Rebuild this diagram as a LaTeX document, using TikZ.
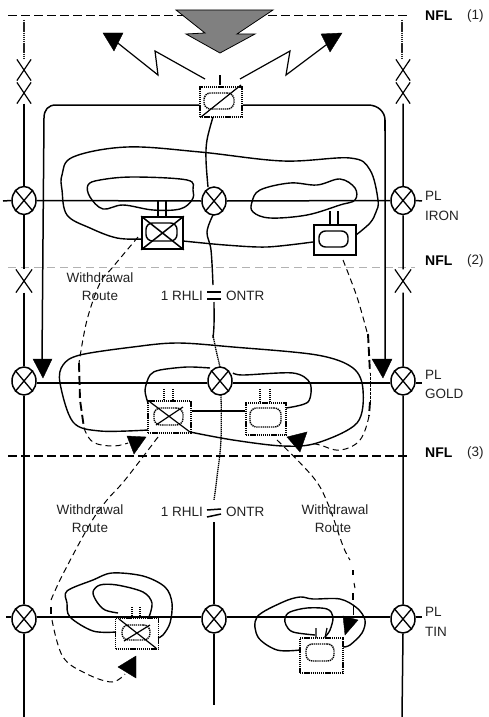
\documentclass[tikz,border=0pt]{standalone}
\usepackage{fontspec}
\setmainfont{Liberation Sans}
\usetikzlibrary{shapes.geometric,shapes.misc}
\definecolor{txt}{HTML}{222222}
\definecolor{arrowgray}{HTML}{808080}
\tikzset{
  ln/.style={line width=1.5pt,black},
  thin ln/.style={line width=1.2pt,black},
  curve/.style={line width=1.4pt,black},
  contour/.style={line width=1.4pt,black,smooth cycle,tension=0.6},
  valvenode/.style={draw,ellipse,line width=1.5pt,fill=white,inner sep=0pt,minimum width=24pt,minimum height=28pt},
  xmark/.style={cross out,draw,line width=1.2pt,inner sep=0pt,minimum width=13pt,minimum height=20pt},
  solidbox/.style={draw,rectangle,line width=1.6pt,inner sep=0pt},
  dotbox/.style={draw,rectangle,line width=1.5pt,dash pattern=on 1.3pt off 0.8pt,inner sep=0pt},
  solidpill/.style={draw,rectangle,rounded corners=6.5pt,line width=1.4pt,inner sep=0pt},
  dotpill/.style={draw,rectangle,rounded corners=6.5pt,line width=1.4pt,dash pattern=on 1.3pt off 0.8pt,inner sep=0pt},
  dotted ln/.style={line width=1.3pt,dash pattern=on 1.3pt off 0.7pt},
  route/.style={line width=1pt,dash pattern=on 6pt off 4pt},
  routethick/.style={line width=1.9pt,dash pattern=on 9pt off 4pt},
  head/.style={fill=black,draw=black,line width=0.4pt,line join=miter},
  label/.style={text=txt,font=\fontsize{13.5}{15}\selectfont,inner sep=0pt},
  nfl/.style={text=black,font=\fontsize{14}{16}\selectfont\bfseries,inner sep=0pt,anchor=west},
  lev/.style={text=txt,font=\fontsize{13.5}{15}\selectfont,inner sep=0pt,anchor=west},
  pl/.style={label,anchor=west},
}
\newcommand{\valve}[3]{\node[valvenode] (#1) at (#2,#3) {};
  \draw[line width=1.3pt] (#1.50)--(#1.230) (#1.130)--(#1.310);}
\begin{document}
\begin{tikzpicture}[x=1pt,y=-1pt]
\useasboundingbox (0,0) rectangle (488,717);
% level coordinates
\coordinate (n1a) at (8,15.5); \coordinate (n1b) at (410,15.5);
\coordinate (n2a) at (8,267); \coordinate (n2b) at (415,267);
\coordinate (n3a) at (8,456); \coordinate (n3b) at (410,456);
\draw[ln,dash pattern=on 9pt off 4pt] (n1a)--(n1b);
\draw[line width=0.8pt,black!30,dash pattern=on 8pt off 5pt] (n2a)--(n2b);
\draw[ln,dash pattern=on 9pt off 4pt] (n3a)--(n3b);
% big arrow
\filldraw[fill=arrowgray,draw=black,line width=0.8pt] (176,10)--(205,33)--(186,34)--(220,53)--(255,34)--(237,34)--(273,10)--cycle;
% valves
\valve{vi1}{24}{200.5}\valve{vi2}{214}{201}\valve{vi3}{403}{200.5}
\valve{vg1}{24}{381}\valve{vg2}{220}{381}\valve{vg3}{403}{381}
\valve{vt1}{24}{619}\valve{vt2}{214}{619}\valve{vt3}{403}{619}
% x marks
\node[xmark] (xl1) at (24,70) {}; \node[xmark] (xl2) at (24,93) {}; \node[xmark,minimum width=15pt,minimum height=22pt] (xl3) at (24,281) {};
\node[xmark] (xr1) at (403,70) {}; \node[xmark] (xr2) at (403,93) {}; \node[xmark,minimum width=15pt,minimum height=22pt] (xr3) at (403,281) {};
% vertical pipes
\coordinate (tl) at (24,20); \coordinate (tr) at (402,20);
\coordinate (bl) at (24,717); \coordinate (br) at (402,717);
\draw[line width=1.4pt,dash pattern=on 1.5pt off 0.6pt,black!85] (tl)--(24,58) (tr)--(402,58);
\draw[ln] (xl2.south)--(vi1.north) (vi1.south)--(xl3.north) (xl3.south)--(vg1.north) (vg1.south)--(vt1.north) (vt1.south)--(bl);
\draw[ln] (xr2.south)--(vi3.north) (vi3.south)--(xr3.north) (xr3.south)--(vg3.north) (vg3.south)--(vt3.north) (vt3.south)--(br);
% horizontals
\coordinate (iL) at (3,201); \coordinate (iR) at (422,201);
\coordinate (gR) at (422,383);
\coordinate (tL) at (6,617); \coordinate (tR) at (422,617);
\draw[ln] (iL)--(vi1.west) (vi1.east)--(vi2.west) (vi2.east)--(vi3.west) (vi3.east)--(iR);
\draw[ln] (vg1.east|-0,383)--(vg2.west|-0,383) (vg2.east|-0,383)--(vg3.west|-0,383) (vg3.east|-0,383)--(gR);
\draw[ln] (tL)--(vt1.west|-tL) (vt1.east|-tL)--(vt2.west|-tL) (vt2.east|-tL)--(vt3.west|-tL) (vt3.east|-tL)--(tR);
% boxes: top
\node[dotbox,minimum width=42pt,minimum height=30pt] (btop) at (221,102) {};
\node[dotpill,minimum width=30pt,minimum height=16pt] (ptop) at (219,101) {};
\coordinate (d1) at (201,117); \coordinate (d2) at (241,85);
\draw[thin ln] (d1)--(d2);
\coordinate (stubtop) at (220,75);
\draw[thin ln] (stubtop)--(220,85);
% lightning arrows
\coordinate (la0) at (205,79); \coordinate (lb0) at (240,79);
\draw[thin ln] (la0)--(155,51)--(158,75)--(114,40);
\fill[head] (103,33)--(123,33)--(114,51)--cycle;
\draw[thin ln] (lb0)--(290,51)--(286,75)--(330,42);
\fill[head] (321,34)--(342,33)--(330,52)--cycle;
% feed lines
\coordinate (al) at (42,360); \coordinate (ar) at (385,360);
\draw[ln] (btop.west|-0,105)--(56,105) .. controls (48,105) and (44,110) .. (44,118)--(al);
\draw[ln] (btop.east|-0,105)--(368,105) .. controls (378,105) and (385,112) .. (385,120)--(ar);
\draw[line width=2.4pt] (385,120)--(385,131);
\fill[head] (33,359)--(52,359)--(43,378)--cycle;
\fill[head] (372,359)--(392,359)--(383,378)--cycle;
% iron boxes
\node[solidbox,minimum width=41pt,minimum height=32pt] (bi1) at (162.5,233) {};
\node[solidpill,minimum width=31pt,minimum height=18pt] (pi1) at (161.5,232) {};
\draw[ln] (bi1.north west)--(bi1.south east) (bi1.south west)--(bi1.north east);
\node[solidbox,minimum width=42pt,minimum height=30pt] (bi2) at (335,240) {};
\node[solidpill,minimum width=29pt,minimum height=16pt] (pi2) at (333.5,239) {};
\draw[thin ln] (158,200)--(158,217) (166,200)--(166,217);
\draw[thin ln] (330,211)--(330,225) (338,211)--(338,225);
% iron contours
\draw[curve] plot[smooth,tension=0.6] coordinates {(142,239) (117,238) (90,228) (67,215) (62,190) (62,175) (73,157) (127,147) (200,152) (283,161) (350,158) (370,170) (378,200) (376,212) (370,223) (356,235)};
\draw[curve] plot[smooth,tension=0.5] coordinates {(183,241) (225,245) (267,247) (313,242)};
\draw[contour] plot coordinates {(88,185) (100,180) (133,177) (187,180) (193,190) (192,200) (180,209) (153,210) (123,205) (103,209) (90,197)};
\draw[contour] plot coordinates {(252,202) (260,190) (290,183) (317,185) (340,179) (355,188) (355,200) (340,205) (307,215) (270,218) (253,212)};
% gold boxes
\node[dotbox,minimum width=43pt,minimum height=32pt] (bg1) at (169.5,417) {};
\node[dotpill,minimum width=29pt,minimum height=17pt] (pg1) at (168.5,416.5) {};
\coordinate (x1) at (150,402); \coordinate (x2) at (190,432); \coordinate (x3) at (156,425); \coordinate (x4) at (183,407);
\draw[thin ln] (x1)--(x2) (x3)--(x4);
\node[dotbox,minimum width=40pt,minimum height=32pt] (bg2) at (266,419) {};
\node[dotpill,minimum width=31pt,minimum height=19pt] (pg2) at (265.5,417.5) {};
\draw[dotted ln] (164,389)--(164,401) (173,389)--(173,401) (260,389)--(260,403) (270,389)--(270,403);
\draw[curve] (bg1.east|-0,411)--(bg2.west|-0,411);
% gold contours
\draw[curve] plot[smooth,tension=0.55] coordinates {(148,430) (100,431) (73,422) (60,383) (63,365) (80,355) (133,347) (177,343) (233,347) (317,355) (353,368) (363,390) (357,423) (317,443) (283,446) (233,440) (190,432)};
\draw[curve] plot[smooth,tension=0.5] coordinates {(148,403) (145,390) (150,375) (160,370) (187,367) (210,368)};
\draw[curve] plot[smooth,tension=0.5] coordinates {(233,373) (243,375) (293,373) (310,383) (308,402) (286,408)};
% tin boxes
\node[dotbox,minimum width=43pt,minimum height=31pt] (bt1) at (137,633.5) {};
\node[dotpill,minimum width=28pt,minimum height=15pt] (pt1) at (136,632.5) {};
\coordinate (x5) at (119,619); \coordinate (x6) at (156,648); \coordinate (x7) at (124,641); \coordinate (x8) at (150,625);
\draw[thin ln] (x5)--(x6) (x7)--(x8);
\node[dotbox,minimum width=43pt,minimum height=35pt] (bt2) at (321.5,655.5) {};
\node[dotpill,minimum width=28pt,minimum height=17pt] (pt2) at (320,652.5) {};
\draw[dotted ln] (132,607)--(132,618) (140,607)--(140,618);
\draw[thin ln] (316,628)--(316,638) (327,628)--(325,638);
% tin contours
\draw[curve] plot[smooth,tension=0.55] coordinates {(116,632) (93,631) (70,617) (67,603) (67,591) (93,580) (112,573) (143,576) (165,587) (172,603) (170,623) (163,635) (158,638)};
\draw[curve] plot[smooth,tension=0.55] coordinates {(118,613) (105,610) (97,602) (93,592) (100,585) (117,585) (143,592) (152,603) (149,617)};
\draw[curve] plot[smooth,tension=0.55] coordinates {(300,650) (277,650) (258,637) (257,617) (283,602) (300,597) (313,599) (340,599) (357,608) (365,620) (362,633) (350,645) (343,647)};
\draw[curve] plot[smooth,tension=0.55] coordinates {(315,635) (293,632) (286,625) (285,618) (290,612) (307,608) (327,609) (333,617) (330,630) (325,637)};
% centre signal line
\coordinate (c0) at (213,117); \coordinate (c1) at (208,187);
\draw[curve] plot[smooth,tension=0.6] coordinates {(c0) (207,140) (206,160) (c1)};
\coordinate (c2) at (213,215); \coordinate (c3) at (213,285);
\draw[curve] plot[smooth,tension=0.6] coordinates {(c2) (207,232) (211,250) (c3)};
\coordinate (e1a) at (207,292); \coordinate (e1b) at (221,292); \coordinate (e2a) at (207,299); \coordinate (e2b) at (221,299);
\draw[ln] (e1a)--(e1b) (e2a)--(e2b);
\coordinate (c4) at (214,302); \coordinate (c5) at (213,335); \coordinate (c6) at (220,367);
\draw[curve] plot[smooth,tension=0.6] coordinates {(c4) (214,325) (213,338)};
\draw[dotted ln] plot[smooth,tension=0.6] coordinates {(c5) (216,350) (c6)};
\coordinate (c7) at (221,395); \coordinate (c8) at (214,500);
\draw[dotted ln] plot[smooth,tension=0.6] coordinates {(c7) (221,440) (217,477) (c8)};
\coordinate (e3a) at (207,510); \coordinate (e3b) at (221,509); \coordinate (e4a) at (207,517); \coordinate (e4b) at (221,514);
\draw[ln] (e3a)--(e3b) (e4a)--(e4b);
\coordinate (c9) at (214,522); \coordinate (c10) at (214,705);
\draw[ln] (c9)--(vt2.north) (vt2.south)--(c10);
% withdrawal routes
\coordinate (r1s) at (138,237); \coordinate (r1e) at (128,443);
\draw[route] plot[smooth,tension=0.6] coordinates {(r1s) (112,268) (100,283) (87,320) (79,363)};
\draw[routethick] (79,363)--(80,400)--(84,428);
\draw[route] plot[smooth,tension=0.7] coordinates {(84,428) (93,442) (113,446) (r1e)};
\fill[head] (127,436)--(146,437)--(134,454)--cycle;
\coordinate (r2s) at (343,260); \coordinate (r2e) at (310,443);
\draw[route] plot[smooth,tension=0.6] coordinates {(r2s) (357,297) (367,332)};
\draw[routethick] (368,334)--(370,373);
\draw[line width=0.9pt,dash pattern=on 3pt off 0.8pt] (370,373)--(370,402);
\draw[routethick] (370,402)--(369,416);
\draw[route] plot[smooth,tension=0.7] coordinates {(369,416) (360,440) (340,450) (320,445) (r2e)};
\fill[head] (287,437)--(307,432)--(300,452)--cycle;
\coordinate (r3s) at (158,437); \coordinate (r3e) at (125,674);
\draw[route] plot[smooth,tension=0.6] coordinates {(r3s) (125,480) (107,500) (90,524) (63,574) (51,600)};
\draw[line width=2.2pt] (51,607)--(51,614);
\draw[route] plot[smooth,tension=0.6] coordinates {(52,620) (63,657) (87,674) (112,682) (r3e)};
\fill[head] (118,667)--(136,656)--(136,678)--cycle;
\coordinate (r4s) at (277,440); \coordinate (r4e) at (353,615);
\draw[route] plot[smooth,tension=0.6] coordinates {(r4s) (313,477) (328,504) (343,546) (350,560)};
\draw[line width=2.2pt] (353,570)--(353,575) (353,593)--(353,600);
\draw[line width=1pt] (354,583)--(355,588);
\draw[line width=0.8pt] (353,606)--(r4e);
\fill[head] (343,616)--(358,620)--(345,635)--cycle;
% labels
\node[nfl] (t1) at (425,16) {NFL}; \node[lev] (t1b) at (467,16) {(1)};
\node[nfl] (t2) at (425,261) {NFL}; \node[lev] (t2b) at (467,261) {(2)};
\node[nfl] (t3) at (425,453) {NFL}; \node[lev] (t3b) at (467,453) {(3)};
\node[pl] (pa) at (425,196) {PL}; \node[pl] (pb) at (425,216) {IRON};
\node[pl] (pc) at (425,375) {PL}; \node[pl] (pd) at (425,394) {GOLD};
\node[pl] (pe) at (425,612) {PL}; \node[pl] (pf) at (425,632) {TIN};
\node[label] (w1) at (100,278) {Withdrawal}; \node[label] (w1b) at (100,296) {Route};
\node[label] (w2) at (90,510) {Withdrawal}; \node[label] (w2b) at (90,528) {Route};
\node[label] (w3) at (335,510) {Withdrawal}; \node[label] (w3b) at (333,528) {Route};
\node[label,anchor=east] (o1) at (203,296) {1 RHLI}; \node[label,anchor=west] (o2) at (226,296) {ONTR};
\node[label,anchor=east] (o3) at (203,512) {1 RHLI}; \node[label,anchor=west] (o4) at (226,512) {ONTR};
\end{tikzpicture}
\end{document}
